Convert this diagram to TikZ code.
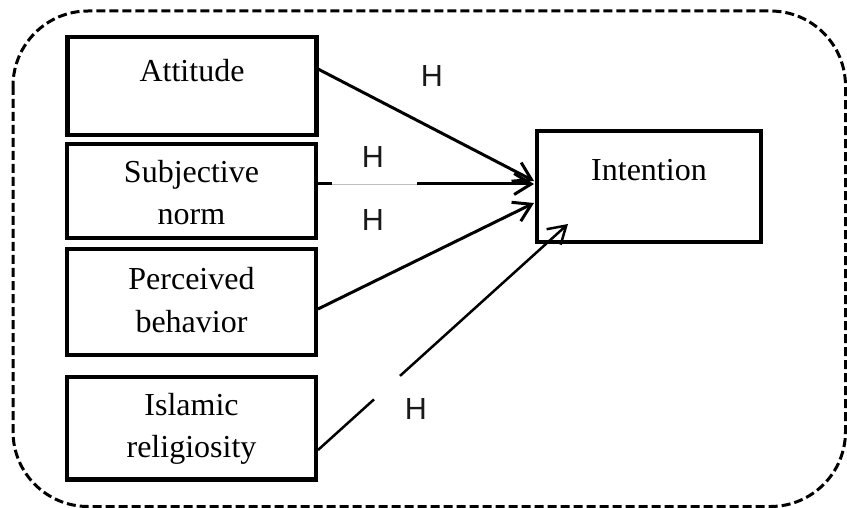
\documentclass[tikz,border=0pt]{standalone}
\usepackage{fontspec}
\setmainfont{Liberation Serif}
\newfontfamily\hfont{Liberation Sans}
\usetikzlibrary{arrows.meta}
\begin{document}
\begin{tikzpicture}[x=1pt,y=-1pt,
  box/.style={draw=black,line width=4.5pt,rectangle,inner sep=0pt},
  lbl/.style={anchor=base,inner sep=0pt,font=\fontsize{32}{42}\selectfont},
  hlbl/.style={anchor=base,inner sep=0pt,font=\hfont\fontsize{30.5}{36}\selectfont,text=black!90},
  conn/.style={line width=3pt},
  arr/.style={conn,-{Straight Barb[length=17pt,width=21pt,line width=3pt]}},
  frame/.style={line width=3pt,dash pattern=on 9pt off 4pt,rounded corners=75pt}]
\useasboundingbox (0,0) rectangle (847,508);
% outer dashed frame
\draw[frame] (13,11) rectangle (845.5,506.5);
% boxes
\node[box,minimum width=249pt,minimum height=98pt] (att) at (192,86) {};
\node[box,minimum width=249pt,minimum height=94pt] (sub) at (191.5,191) {};
\node[box,minimum width=249pt,minimum height=105.5pt] (per) at (191.5,302) {};
\node[box,minimum width=249pt,minimum height=102.5pt] (isl) at (191.5,428) {};
\node[box,minimum width=224pt,minimum height=111pt] (int) at (649,186.5) {};
% texts
\node[lbl] (attT) at (192,82) {Attitude};
\node[lbl] (subT1) at (191.5,183) {Subjective};
\node[lbl] (subT2) at (191.5,225) {norm};
\node[lbl] (perT1) at (191.5,290) {Perceived};
\node[lbl] (perT2) at (191.5,332) {behavior};
\node[lbl] (islT1) at (191.5,415) {Islamic};
\node[lbl] (islT2) at (191.5,457) {religiosity};
\node[lbl] (intT) at (649,181) {Intention};
% H labels
\node[hlbl] (h1) at (432,87) {H};
\node[hlbl] (h2) at (373,168) {H};
\node[hlbl] (h3) at (373,230) {H};
\node[hlbl] (h4) at (416,419) {H};
% connector points
\coordinate (a0) at (318,69);
\coordinate (a1) at (534,181);
\coordinate (s0) at (318,184);
\coordinate (s1) at (332,184);
\coordinate (s2) at (417,184);
\coordinate (s3) at (534,184);
\coordinate (p0) at (318,309);
\coordinate (p1) at (534,203);
\coordinate (i0) at (318,450);
\coordinate (i1) at (374,399.4);
\coordinate (i2) at (400,375.9);
\coordinate (i3) at (568,224);
% connectors
\draw[arr] (a0) -- (a1);
\draw[conn] (s0) -- (s1);
\draw[line width=0.8pt,black!25] (s1) -- (s2);
\draw[arr] (s2) -- (s3);
\draw[arr] (p0) -- (p1);
\draw[line width=2.5pt] (i0) -- (i1);
\draw[line width=2.5pt,-{Straight Barb[length=17pt,width=21pt,line width=2.5pt]}] (i2) -- (i3);
\end{tikzpicture}
\end{document}
